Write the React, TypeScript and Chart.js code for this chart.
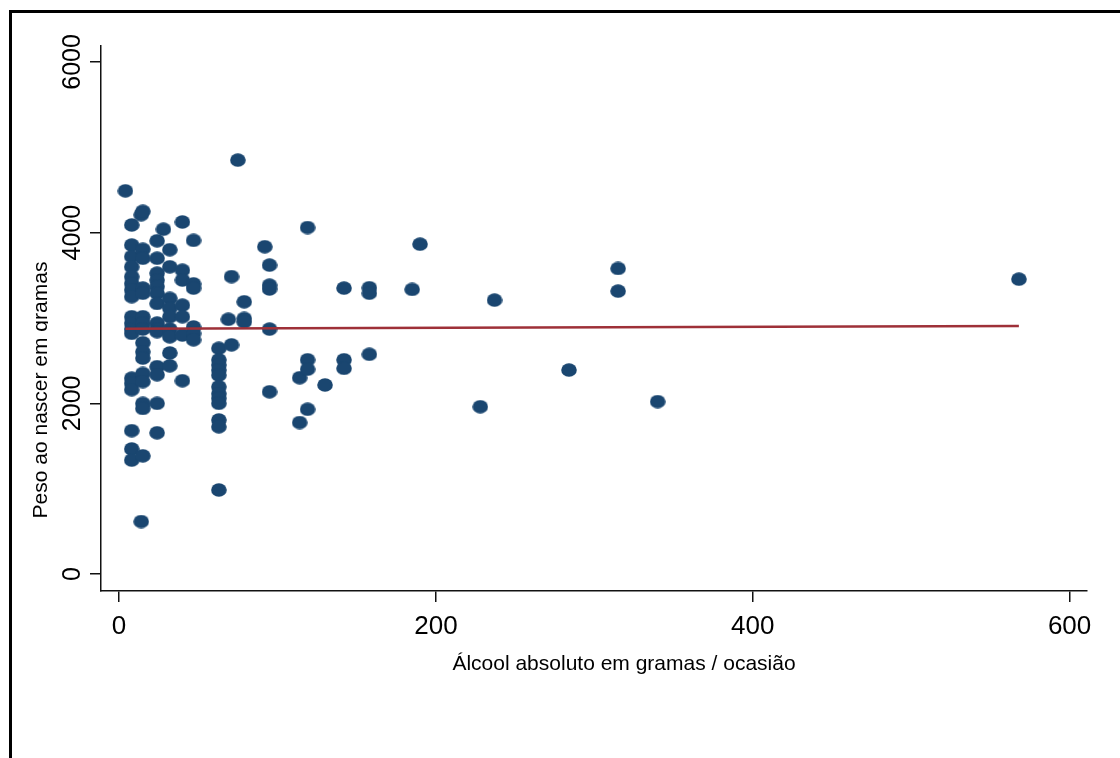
import { useEffect, useRef } from "react";
import { Chart, registerables } from "chart.js";

Chart.register(...registerables);

// Alcohol (g / occasion) and birth weight (g)
const alcoholGrams = [
  4,
  8, 8, 8, 8, 8, 8, 8, 8, 8, 8, 8, 8, 8, 8, 8, 8, 8, 8,
  14, 14,
  15, 15, 15, 15, 15, 15, 15, 15, 15, 15, 15, 15, 15, 15, 15, 15,
  24, 24, 24, 24, 24, 24, 24, 24, 24, 24, 24, 24, 24, 24,
  28,
  32, 32, 32, 32, 32, 32, 32, 32, 32,
  40, 40, 40, 40, 40, 40, 40,
  47, 47, 47, 47, 47, 47,
  63, 63, 63, 63, 63, 63, 63, 63, 63, 63, 63, 63,
  69,
  71, 71,
  75,
  79, 79, 79,
  92,
  95, 95, 95, 95, 95,
  114, 114,
  119, 119, 119, 119,
  130,
  142, 142, 142,
  158, 158, 158,
  185,
  190,
  228,
  237,
  284,
  315, 315,
  340,
  568,
];

const birthWeight = [
  4490,
  4090, 3855, 3720, 3600, 3485, 3405, 3330, 3250, 3015, 2940, 2870, 2820, 2295, 2235, 2160, 1680, 1465, 1335,
  4210, 615,
  4250, 3805, 3700, 3350, 3290, 3015, 2940, 2870, 2710, 2605, 2530, 2350, 2255, 2000, 1940, 1385,
  3905, 3700, 3525, 3445, 3370, 3290, 3170, 2940, 2870, 2840, 2430, 2335, 2000, 1655,
  4040,
  3800, 3600, 3230, 3115, 3015, 2870, 2780, 2590, 2440,
  4125, 3560, 3445, 3150, 3015, 2800, 2265,
  3910, 3400, 3350, 2895, 2820, 2745,
  2645, 2510, 2450, 2390, 2330, 2195, 2115, 2060, 2000, 1805, 1725, 985,
  2985,
  3485, 2685,
  4850,
  3190, 2995, 2955,
  3835,
  3620, 3385, 3340, 2870, 2135,
  2300, 1775,
  4060, 2510, 2400, 1930,
  2215,
  3350, 2510, 2410,
  3355, 3290, 2575,
  3335,
  3865,
  1960,
  3210,
  2390,
  3580, 3315,
  2020,
  3455,
];

// Fitted line endpoints
const fitX = [4, 568];
const fitY = [2874, 2906];

const xTickValues = [0, 200, 400, 600];
const yTickValues = [0, 2000, 4000, 6000];
const xTitle = "Álcool absoluto em gramas / ocasião";
const yTitle = "Peso ao nascer em gramas";

const FONT = '"Liberation Sans", Arial, sans-serif';

export default function App() {
  const ref = useRef<HTMLCanvasElement>(null);

  useEffect(() => {
    document.body.style.margin = "0";
    document.body.style.overflow = "hidden";
    const canvas = ref.current!;

    const marker = document.createElement("canvas");
    marker.width = 16;
    marker.height = 14;
    const mctx = marker.getContext("2d")!;
    mctx.fillStyle = "#1a4670";
    mctx.beginPath();
    mctx.ellipse(8, 7, 7.8, 6.8, 0, 0, Math.PI * 2);
    mctx.fill();

    const points = alcoholGrams.map((x, i) => ({ x, y: birthWeight[i] }));
    const fitLine = fitX.map((x, i) => ({ x, y: fitY[i] }));

    const decor = {
      id: "decor",
      beforeDraw(chart: any) {
        const ctx = chart.ctx;
        ctx.save();
        ctx.fillStyle = "#fff";
        ctx.fillRect(0, 0, chart.width, chart.height);
        ctx.fillStyle = "#000";
        ctx.fillRect(9, 10, 3, chart.height - 10);
        ctx.fillRect(9, 10, chart.width - 9, 3);
        ctx.restore();
      },
      afterDraw(chart: any) {
        const ctx = chart.ctx;
        const xs = chart.scales.x;
        const ys = chart.scales.y;
        ctx.save();
        ctx.fillStyle = "#000";
        ctx.textAlign = "center";
        ctx.textBaseline = "alphabetic";
        ctx.font = `25px ${FONT}`;
        yTickValues.forEach((v) => {
          const py = ys.getPixelForValue(v);
          ctx.save();
          ctx.translate(80, py);
          ctx.rotate(-Math.PI / 2);
          ctx.fillText(String(v), 0, 0);
          ctx.restore();
        });
        ctx.font = `26px ${FONT}`;
        xTickValues.forEach((v) => {
          ctx.fillText(String(v), xs.getPixelForValue(v), 634);
        });
        ctx.font = `21px ${FONT}`;
        ctx.fillText(xTitle, 624, 670);
        ctx.save();
        ctx.beginPath();
        ctx.rect(0, 0, 48, chart.height);
        ctx.clip();
        ctx.translate(47, 390);
        ctx.rotate(-Math.PI / 2);
        ctx.fillText(yTitle, 0, 0);
        ctx.restore();
        ctx.restore();
      },
    };

    const chart = new Chart(canvas, {
      type: "scatter",
      data: {
        datasets: [
          {
            type: "line",
            data: fitLine,
            borderColor: "#9e3038",
            borderWidth: 2.5,
            pointRadius: 0,
            fill: false,
            showLine: true,
          } as any,
          {
            type: "scatter",
            data: points,
            pointStyle: marker,
            pointRadius: 8,
            backgroundColor: "#1a4670",
            borderWidth: 0,
          } as any,
        ],
      },
      options: {
        responsive: false,
        animation: false,
        layout: { padding: { top: 46, right: 33, left: 0, bottom: 0 } },
        plugins: { legend: { display: false }, tooltip: { enabled: false } },
        scales: {
          x: {
            type: "linear",
            position: "bottom",
            min: -11.4,
            max: 611,
            afterBuildTicks: (s: any) => {
              s.ticks = xTickValues.map((v) => ({ value: v }));
            },
            afterFit: (s: any) => {
              s.height = 167;
            },
            grid: { drawOnChartArea: false, drawTicks: true, tickLength: 11, color: "#111", lineWidth: 1.5 },
            border: { display: true, color: "#111", width: 1.5 },
            ticks: { display: false },
          },
          y: {
            type: "linear",
            position: "left",
            min: -199,
            max: 6187,
            afterBuildTicks: (s: any) => {
              s.ticks = yTickValues.map((v) => ({ value: v }));
            },
            afterFit: (s: any) => {
              s.width = 101;
            },
            grid: { drawOnChartArea: false, drawTicks: true, tickLength: 11, color: "#111", lineWidth: 1.5 },
            border: { display: true, color: "#111", width: 1.5 },
            ticks: { display: false },
          },
        },
      },
      plugins: [decor],
    } as any);

    return () => chart.destroy();
  }, []);

  return <canvas ref={ref} width={1120} height={758} style={{ display: "block" }} />;
}
